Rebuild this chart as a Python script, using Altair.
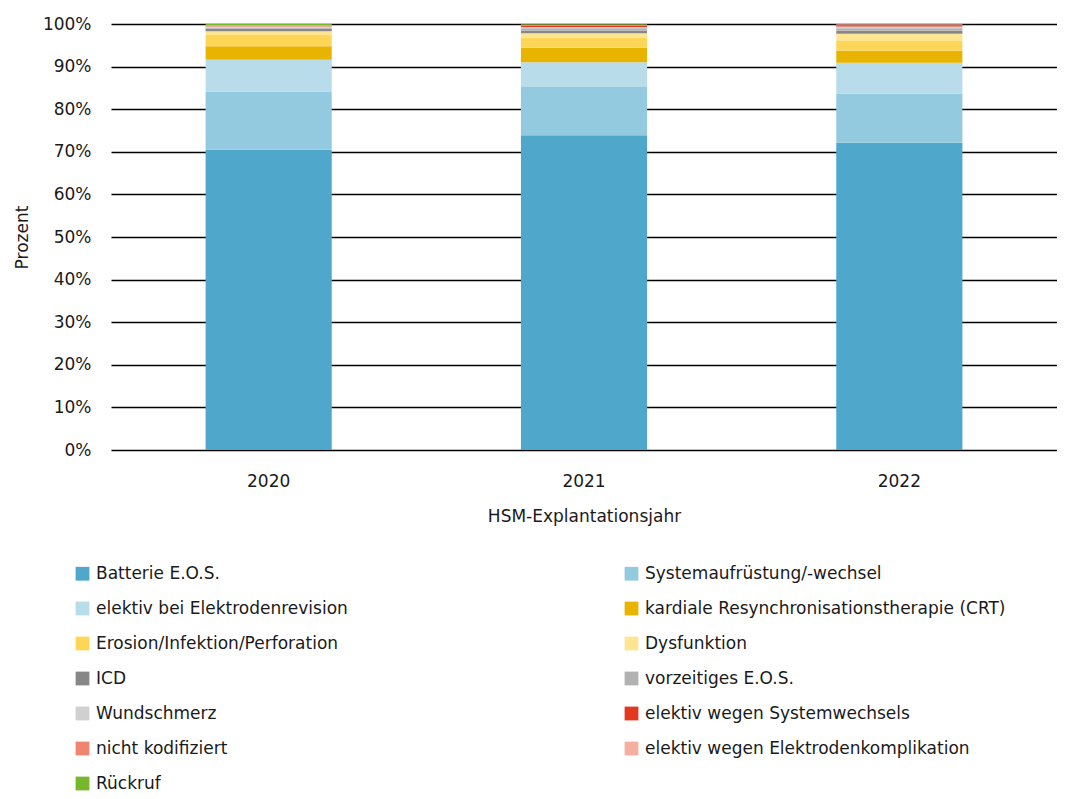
import altair as alt
import pandas as pd

years = ["2020", "2021", "2022"]
categories = [
    "Batterie E.O.S.",
    "Systemaufrüstung/-wechsel",
    "elektiv bei Elektrodenrevision",
    "kardiale Resynchronisationstherapie (CRT)",
    "Erosion/Infektion/Perforation",
    "Dysfunktion",
    "ICD",
    "vorzeitiges E.O.S.",
    "Wundschmerz",
    "elektiv wegen Systemwechsels",
    "nicht kodifiziert",
    "elektiv wegen Elektrodenkomplikation",
    "Rückruf",
]
colors = [
    "#4fa8cc", "#93cae0", "#b8dcea", "#e8b400", "#fdd657", "#fde592",
    "#878787", "#b2b2b2", "#d0d0d0", "#e3371e", "#ef8570", "#f5afa0", "#76b82a",
]
v2020 = [70.5, 13.6, 7.5, 3.2, 2.6, 0.9, 0.6, 0.3, 0.2, 0.1, 0.1, 0.1, 0.3]
v2021 = [73.9, 11.3, 5.8, 3.4, 2.4, 1.0, 0.6, 0.6, 0.3, 0.3, 0.2, 0.1, 0.1]
v2022 = [72.1, 11.5, 7.3, 2.8, 2.3, 1.7, 0.7, 0.6, 0.4, 0.3, 0.2, 0.1, 0.0]

rows = []
for y, vals in zip(years, [v2020, v2021, v2022]):
    for i, (c, v) in enumerate(zip(categories, vals)):
        rows.append({"Jahr": y, "Kategorie": c, "Wert": v / 100.0, "ord": i})
df = pd.DataFrame(rows)

FONT = "DejaVu Sans"
TXT = "#1a1a1a"

chart = alt.Chart(df).mark_bar().encode(
    x=alt.X("Jahr:N", title="HSM-Explantationsjahr",
            scale=alt.Scale(paddingInner=0.6, paddingOuter=0.3),
            axis=alt.Axis(labelAngle=0, domain=False, ticks=False, labelPadding=23,
                          titlePadding=19, labelFontSize=17, titleFontSize=17,
                          labelFont=FONT, titleFont=FONT, titleFontWeight="normal",
                          labelColor=TXT, titleColor=TXT)),
    y=alt.Y("Wert:Q", stack="zero", title="Prozent",
            scale=alt.Scale(domain=[0, 1], nice=False),
            axis=alt.Axis(format="%", values=[i / 10 for i in range(11)], domain=False,
                          ticks=False, labelPadding=20, titlePadding=11,
                          gridColor="#000000", gridWidth=1.6, gridOpacity=1,
                          labelFontSize=17, titleFontSize=17, labelFont=FONT,
                          titleFont=FONT, titleFontWeight="normal",
                          labelColor=TXT, titleColor=TXT)),
    color=alt.Color("Kategorie:N", sort=categories,
                    scale=alt.Scale(domain=categories, range=colors),
                    legend=alt.Legend(title=None, orient="none", legendX=-37, legendY=541,
                                      direction="horizontal",
                                      columns=2, columnPadding=166, rowPadding=17,
                                      symbolType="square", symbolSize=190,
                                      symbolStrokeWidth=0, symbolOpacity=1,
                                      labelFontSize=17, labelFont=FONT, labelLimit=600,
                                      labelOffset=5,
                                      labelColor=TXT, gridAlign="all")),
    order=alt.Order("ord:Q", sort="ascending"),
).properties(
    width=946, height=426,
    padding={"left": 5, "top": 7, "right": 0, "bottom": 0},
).configure_view(stroke=None)

chart.save("out.html", embed_options={"renderer": "svg", "actions": False})
